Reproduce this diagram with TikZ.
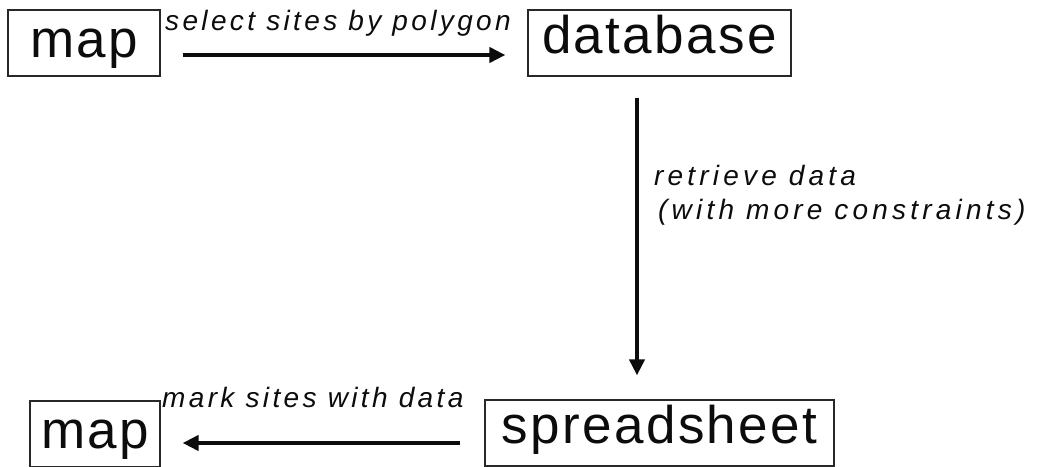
\documentclass[tikz,border=0pt]{standalone}
\usepackage{fontspec}
\usepackage{xcolor}
\usepackage{tikz}
\usetikzlibrary{arrows.meta,positioning}
\newfontfamily\boxfont{Liberation Sans}[LetterSpace=4.5]
\newfontfamily\lblfont{Liberation Sans}[LetterSpace=12]
\definecolor{inkBlack}{RGB}{12,12,12}
\definecolor{boxLine}{RGB}{40,40,40}

\begin{document}
\begin{tikzpicture}[x=1pt, y=-1pt,
  box/.style={draw=boxLine, line width=1.2pt, inner xsep=0pt, inner ysep=0pt,
    text height=43pt, text depth=23pt, text=inkBlack,
    font=\boxfont\fontsize{53}{60}\selectfont},
  mapbox/.style={box, text height=47pt, text depth=19pt},
  flow/.style={draw=inkBlack, line width=4pt, -{Triangle[length=16pt,width=15pt]}},
  lbl/.style={inner sep=0pt, text=inkBlack, font=\lblfont\itshape\fontsize{28}{32}\selectfont},
  widelbl/.style={lbl, font=\lblfont\itshape\fontsize{28}{32}\selectfont\addfontfeature{LetterSpace=15}}]
\useasboundingbox (0,0) rectangle (1057,466);

% the four boxes
\node[mapbox, minimum width=152pt] (mapTop) at (84,43) {map};
\node[box, minimum width=263pt] (dbase) at (659.5,43) {database};
\node[box, minimum width=349pt] (sheet) at (659.5,433) {spreadsheet};
\node[mapbox, minimum width=130pt] (mapBot) at (95,434) {map};

% connectors
\draw[flow] ([xshift=22pt,yshift=-12pt]mapTop.east) -- ([xshift=-22pt,yshift=-12pt]dbase.west);
\draw[flow] ([xshift=-22.5pt,yshift=-21pt]dbase.south) -- ([xshift=-22.5pt,yshift=24pt]sheet.north);
\draw[flow] ([xshift=-24pt,yshift=-10pt]sheet.west) -- ([xshift=22pt,yshift=-9pt]mapBot.east);

% labels
\node[lbl, anchor=base west] (selLbl) at (165,30) {select sites by polygon};
\node[widelbl, anchor=base west] (getLbl) at (654,185) {retrieve data};
\node[widelbl, anchor=base west] (getLblB) at (658,219) {(with more constraints)};
\node[lbl, anchor=base west] (markLbl) at (162,407) {mark sites with data};
\end{tikzpicture}
\end{document}
